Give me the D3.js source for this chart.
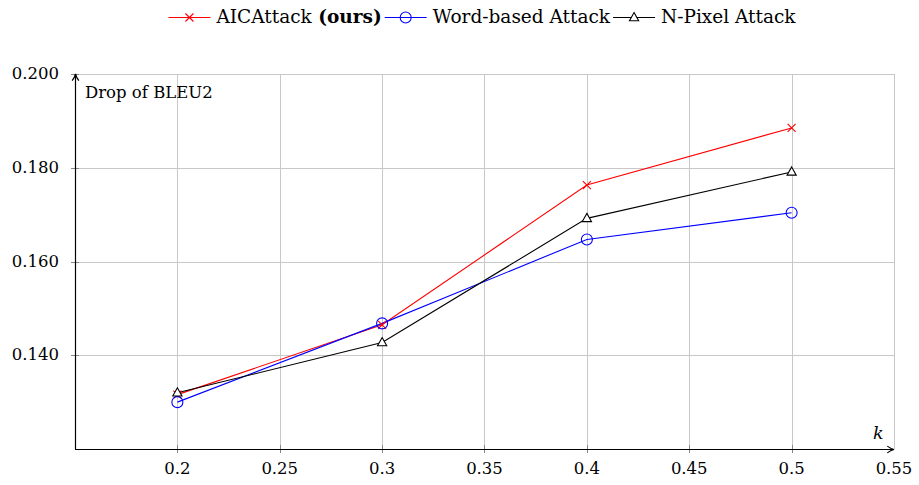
<!DOCTYPE html>
<html>
<head>
<meta charset="utf-8">
<script src="https://cdn.jsdelivr.net/npm/d3@7"></script>
<style>
  body { margin: 0; background: #fff; }
  svg text { font-family: "DejaVu Serif", "Liberation Serif", serif; fill: #000; }
</style>
</head>
<body>
<svg id="figure" width="919" height="485"></svg>
<script>
// values
const kValues = [0.2, 0.3, 0.4, 0.5];
const aicAttack = [0.1316, 0.1465, 0.1763, 0.1885];
const wordAttack = [0.1300, 0.1468, 0.1647, 0.1704];
const pixelAttack = [0.1320, 0.1427, 0.1692, 0.1791];
const xTicks = [0.2, 0.25, 0.3, 0.35, 0.4, 0.45, 0.5, 0.55];
const yTicks = [0.14, 0.16, 0.18, 0.2];

const series = [
    {name: "AICAttack", bold: " (ours)", values: aicAttack, color: "#ff0000", marker: "cross"},
    {name: "Word-based Attack", bold: "", values: wordAttack, color: "#0000ff", marker: "circle"},
    {name: "N-Pixel Attack", bold: "", values: pixelAttack, color: "#000000", marker: "triangle"}
];

const svg = d3.select("#figure");
const plot = {left: 75, right: 894, top: 74, bottom: 449};
const fontSize = 16.5;

const x = d3.scaleLinear().domain([0.15, 0.55]).range([plot.left, plot.right]);
const y = d3.scaleLinear().domain([0.12, 0.2]).range([plot.bottom, plot.top]);

// grid
const grid = svg.append("g").attr("stroke", "#c8c8c8").attr("stroke-width", 1);
grid.selectAll("line.v").data(xTicks).join("line")
    .attr("x1", d => Math.round(x(d)) + 0.5).attr("x2", d => Math.round(x(d)) + 0.5)
    .attr("y1", plot.top).attr("y2", plot.bottom);
grid.selectAll("line.h").data(yTicks).join("line")
    .attr("x1", plot.left).attr("x2", plot.right)
    .attr("y1", d => Math.round(y(d)) + 0.5).attr("y2", d => Math.round(y(d)) + 0.5);

// tick labels
svg.append("g").selectAll("text").data(xTicks).join("text")
    .attr("x", d => x(d)).attr("y", 474)
    .attr("text-anchor", "middle").attr("font-size", fontSize)
    .text(d => d3.format("")(d));
svg.append("g").selectAll("text").data(yTicks).join("text")
    .attr("x", 59).attr("y", d => y(d) + 5)
    .attr("text-anchor", "end").attr("font-size", fontSize)
    .text(d => d3.format(".3f")(d));

// small tick marks
svg.append("g").attr("stroke", "#888").selectAll("line").data(xTicks.slice(0, -1)).join("line")
    .attr("x1", d => Math.round(x(d)) + 0.5).attr("x2", d => Math.round(x(d)) + 0.5)
    .attr("y1", plot.bottom - 4).attr("y2", plot.bottom + 4);
svg.append("g").attr("stroke", "#888").selectAll("line").data(yTicks).join("line")
    .attr("x1", plot.left - 4).attr("x2", plot.left + 4)
    .attr("y1", d => Math.round(y(d)) + 0.5).attr("y2", d => Math.round(y(d)) + 0.5);

// axes with arrows
const defs = svg.append("defs");
defs.append("marker").attr("id", "arrow").attr("viewBox", "0 0 10 10")
    .attr("refX", 9).attr("refY", 5).attr("markerWidth", 7).attr("markerHeight", 7)
    .attr("orient", "auto")
    .append("path").attr("d", "M1,1 Q5,4 9,5 Q5,6 1,9").attr("fill", "none")
    .attr("stroke", "#000").attr("stroke-width", 1.4);
svg.append("line").attr("x1", plot.left + 0.5).attr("x2", plot.left + 0.5)
    .attr("y1", plot.bottom).attr("y2", plot.top)
    .attr("stroke", "#000").attr("stroke-width", 1.2).attr("marker-end", "url(#arrow)");
svg.append("line").attr("x1", plot.left).attr("x2", plot.right)
    .attr("y1", plot.bottom + 0.5).attr("y2", plot.bottom + 0.5)
    .attr("stroke", "#000").attr("stroke-width", 1.2).attr("marker-end", "url(#arrow)");

svg.append("text").attr("x", 85).attr("y", 98).attr("font-size", fontSize).text("Drop of BLEU2");
svg.append("text").attr("x", 873).attr("y", 439).attr("font-size", fontSize + 1)
    .attr("font-style", "italic").text("k");

function drawMarker(g, type, color) {
    if (type === "cross") {
        g.append("path").attr("d", "M-4,-4L4,4M-4,4L4,-4").attr("stroke", color).attr("stroke-width", 1.1);
    } else if (type === "circle") {
        g.append("circle").attr("r", 5.5).attr("fill", "none").attr("stroke", color).attr("stroke-width", 1.1);
    } else {
        g.append("path").attr("d", "M0,-5L4.6,3.2L-4.6,3.2Z").attr("fill", "#fff")
            .attr("stroke", color).attr("stroke-width", 1.1);
    }
}

const line = d3.line().x((d, i) => x(kValues[i])).y(d => y(d));
series.forEach(s => {
    svg.append("path").datum(s.values).attr("d", line)
        .attr("fill", "none").attr("stroke", s.color).attr("stroke-width", 1.1);
});
series.forEach(s => {
    s.values.forEach((v, i) => {
        const g = svg.append("g").attr("transform", `translate(${x(kValues[i])},${y(v)})`);
        drawMarker(g, s.marker, s.color);
    });
});

// legend, items chained one after another and centred above the plot
const legend = svg.append("g");
let cx = 0;
series.forEach((s, i) => {
    const lw = 42;
    legend.append("line").attr("x1", cx).attr("x2", cx + lw).attr("y1", 17.5).attr("y2", 17.5)
        .attr("stroke", s.color).attr("stroke-width", 1.1);
    const g = legend.append("g").attr("transform", `translate(${cx + lw / 2},17.5)`);
    drawMarker(g, s.marker, s.color);
    const t = legend.append("text").attr("x", cx + lw + 6).attr("y", 23)
        .attr("font-size", 18.5).text(s.name);
    if (s.bold) t.append("tspan").attr("font-weight", "bold").text(s.bold);
    cx += lw + 6 + t.node().getComputedTextLength() + 3;
});
legend.attr("transform", `translate(${482 - (cx - 3) / 2},0)`);
</script>
</body>
</html>
